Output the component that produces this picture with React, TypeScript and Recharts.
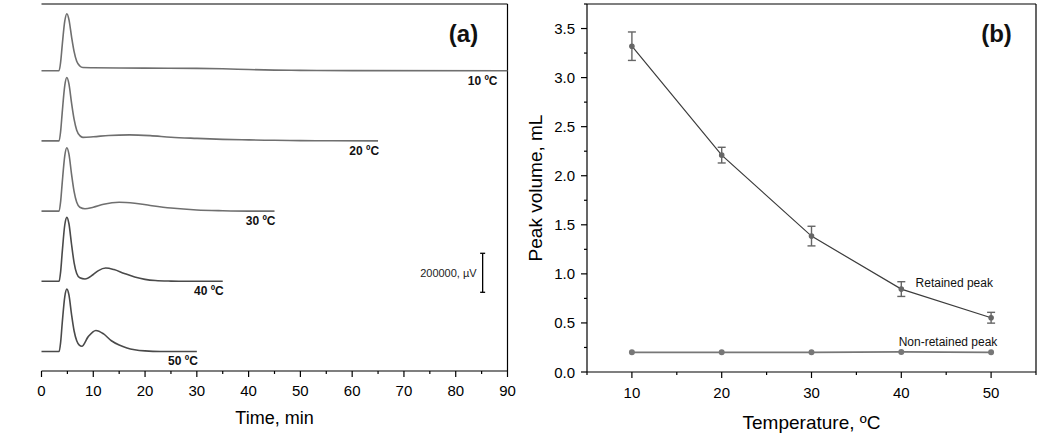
import React from 'react';
import {
  ComposedChart,
  Line,
  Scatter,
  XAxis,
  YAxis,
  ErrorBar,
  ReferenceLine,
  ReferenceDot,
  Label,
} from 'recharts';

// ---- panel (a): chromatograms, signal in µV above each baseline ----
const time10 = [0, 3.4, 3.7, 4.0, 4.5, 4.9, 5.3, 5.8, 6.3, 6.8, 7.4, 8.0, 10, 20, 30, 35, 40, 45, 50, 60, 90];
const signal10 = [0, 0, 45000, 130000, 255000, 292000, 262000, 175000, 98000, 48000, 24000, 16000, 15000, 13000, 12000, 10000, 6000, 3000, 1500, 500, 0];

const time20 = [0, 3.4, 3.7, 4.0, 4.5, 4.9, 5.3, 5.8, 6.3, 6.8, 7.4, 8.0, 10, 13, 17, 21, 25, 30, 35, 40, 45, 50, 55, 65];
const signal20 = [0, 0, 50000, 145000, 285000, 325000, 292000, 195000, 110000, 55000, 27000, 18000, 21000, 28000, 31000, 27000, 19000, 13000, 8000, 5000, 3000, 1500, 500, 0];

const time30 = [0, 3.4, 3.7, 4.0, 4.5, 4.9, 5.3, 5.8, 6.3, 6.8, 7.4, 8.4, 10, 12, 15, 18, 21, 25, 30, 35, 40, 45];
const signal30 = [0, 0, 50000, 145000, 285000, 325000, 292000, 190000, 100000, 45000, 20000, 12000, 20000, 35000, 45000, 40000, 29000, 16000, 6000, 2000, 0, 0];

const time40 = [0, 3.4, 3.7, 4.0, 4.5, 4.9, 5.3, 5.8, 6.3, 6.8, 7.4, 8.4, 10, 11, 12.4, 14, 16, 18, 20, 22, 25, 28, 35];
const signal40 = [0, 0, 50000, 148000, 290000, 328000, 295000, 190000, 95000, 40000, 18000, 12000, 35000, 55000, 68000, 60000, 40000, 22000, 10000, 4000, 1000, 0, 0];

const time50 = [0, 3.4, 3.7, 4.0, 4.5, 4.9, 5.3, 5.8, 6.3, 6.8, 7.3, 7.8, 9, 10.5, 12, 13.5, 15, 16.5, 18, 20, 23, 30];
const signal50 = [0, 0, 48000, 145000, 282000, 320000, 290000, 190000, 105000, 55000, 33000, 27000, 75000, 108000, 90000, 55000, 33000, 18000, 9000, 3000, 0, 0];

const traceLabels = ['10 ºC', '20 ºC', '30 ºC', '40 ºC', '50 ºC'];
const traceOffsets = [1540000, 1180000, 820000, 460000, 100000];
const traceTimes = [time10, time20, time30, time40, time50];
const traceSignals = [signal10, signal20, signal30, signal40, signal50];
const traceColors = ['#6f6f6f', '#6f6f6f', '#6f6f6f', '#4a4a4a', '#4a4a4a'];

const timeTicks = [0, 5, 10, 15, 20, 25, 30, 35, 40, 45, 50, 55, 60, 65, 70, 75, 80, 85, 90];
const scaleBar = [{ t: 85.2, v: 503600, err: 100000 }];

// ---- panel (b): peak volume vs temperature ----
const temperatures = [10, 20, 30, 40, 50];
const retainedPeak = [3.32, 2.21, 1.385, 0.845, 0.553];
const retainedErr = [0.145, 0.08, 0.1, 0.075, 0.055];
const nonRetainedPeak = [0.2, 0.2, 0.2, 0.205, 0.2];
const tempTicks = [5, 10, 15, 20, 25, 30, 35, 40, 45, 50, 55];
const volumeTicks = [0, 0.25, 0.5, 0.75, 1, 1.25, 1.5, 1.75, 2, 2.25, 2.5, 2.75, 3, 3.25, 3.5, 3.75];

const FONT = '"Liberation Sans", Arial, sans-serif';

const traces = traceTimes.map((times, i) =>
  times.map((t, j) => ({ t, v: traceSignals[i][j] + traceOffsets[i] }))
);

const volumeData = temperatures.map((temp, i) => ({
  temp,
  retained: retainedPeak[i],
  retainedErr: retainedErr[i],
  nonRetained: nonRetainedPeak[i],
}));

const TimeTick = (props: any) => {
  const { x, y, payload } = props;
  const major = payload.value % 10 === 0;
  return (
    <g>
      <line x1={x} x2={x} y1={y} y2={y + (major ? 6 : 3)} stroke="#000" strokeWidth={1.2} />
      {major && (
        <text x={x} y={y + 19} textAnchor="middle" dominantBaseline="central" fontSize={15} fill="#000" fontFamily={FONT}>
          {payload.value}
        </text>
      )}
    </g>
  );
};

const TempTick = (props: any) => {
  const { x, y, payload } = props;
  const major = payload.value % 10 === 0;
  return (
    <g>
      <line x1={x} x2={x} y1={y} y2={y + (major ? 6 : 3)} stroke="#000" strokeWidth={1.2} />
      {major && (
        <text x={x} y={y + 20} textAnchor="middle" dominantBaseline="central" fontSize={15} fill="#000" fontFamily={FONT}>
          {payload.value}
        </text>
      )}
    </g>
  );
};

const VolumeTick = (props: any) => {
  const { x, y, payload } = props;
  const major = Math.abs((payload.value * 2) % 1) < 1e-6;
  return (
    <g>
      <line x1={x} x2={x - (major ? 6 : 3)} y1={y} y2={y} stroke="#000" strokeWidth={1.2} />
      {major && (
        <text x={x - 12} y={y} textAnchor="end" dominantBaseline="central" fontSize={15} fill="#000" fontFamily={FONT}>
          {payload.value.toFixed(1)}
        </text>
      )}
    </g>
  );
};

const ScaleBarShape = (props: any) => {
  const { cx, cy } = props;
  return (
    <text x={cx - 6} y={cy} textAnchor="end" dominantBaseline="central" fontSize={11} fill="#222" fontFamily={FONT}>
      200000, µV
    </text>
  );
};

const textAt = (text: string, dx: number, dy: number, size: number, weight: string, anchor: string) =>
  (props: any) => {
    const vb = props.viewBox;
    const cx = vb.x + vb.width / 2;
    const cy = vb.y + vb.height / 2;
    return (
      <text x={cx + dx} y={cy + dy} textAnchor={anchor} dominantBaseline="central" fontSize={size} fontWeight={weight} fill="#111" fontFamily={FONT}>
        {text}
      </text>
    );
  };

export default function App() {
  return (
    <div style={{ position: 'absolute', left: 0, top: 0, width: 1050, height: 437, background: '#fff', fontFamily: FONT }}>
      <div style={{ position: 'absolute', left: 0, top: 0 }}>
        <ComposedChart width={520} height={437} margin={{ top: 4, right: 12.5, bottom: 26, left: 41.5 }}>
          <XAxis
            type="number"
            dataKey="t"
            domain={[0, 90]}
            ticks={timeTicks}
            interval={0}
            tick={TimeTick}
            tickLine={false}
            tickSize={0}
            tickMargin={0}
            height={40}
            axisLine={{ stroke: '#000', strokeWidth: 1.2 }}
          >
            <Label
              content={(p: any) => (
                <text x={p.viewBox.x + p.viewBox.width / 2} y={p.viewBox.y + 47} textAnchor="middle" dominantBaseline="central" fontSize={18} fill="#000" fontFamily={FONT}>
                  Time, min
                </text>
              )}
            />
          </XAxis>
          <YAxis
            type="number"
            domain={[0, 1882000]}
            tick={false}
            tickLine={false}
            width={0}
            axisLine={{ stroke: '#000', strokeWidth: 1.2 }}
          >
            <Label
              content={(p: any) => {
                const x = p.viewBox.x - 29.5;
                const y = p.viewBox.y + p.viewBox.height / 2;
                return (
                  <text x={x} y={y} transform={`rotate(-90 ${x} ${y})`} textAnchor="middle" dominantBaseline="central" fontSize={18} fill="#000" fontFamily={FONT}>
                    Absorbance, 280 nm
                  </text>
                );
              }}
            />
          </YAxis>
          <ReferenceLine y={1882000} stroke="#000" strokeWidth={1.2} />
          <ReferenceLine x={90} stroke="#000" strokeWidth={1.2} />
          {traces.map((data, i) => (
            <Line
              key={traceLabels[i]}
              data={data}
              dataKey="v"
              type="monotone"
              stroke={traceColors[i]}
              strokeWidth={1.6}
              dot={false}
              activeDot={false}
              isAnimationActive={false}
            />
          ))}
          {traces.map((data, i) => {
            const lastT = data[data.length - 1].t;
            return (
              <ReferenceDot
                key={`lbl-${i}`}
                x={lastT}
                y={traceOffsets[i]}
                r={0}
                fill="none"
                stroke="none"
                label={{ content: textAt(traceLabels[i], lastT >= 90 ? -10 : 1, 10, 12, 'bold', 'end') }}
              />
            );
          })}
          <Scatter data={scaleBar} dataKey="v" shape={ScaleBarShape} isAnimationActive={false}>
            <ErrorBar dataKey="err" direction="y" width={2.5} stroke="#000" strokeWidth={1.3} />
          </Scatter>
          <ReferenceDot
            x={81.5}
            y={1730000}
            r={0}
            fill="none"
            stroke="none"
            label={{ content: textAt('(a)', 0, 0, 24, 'bold', 'middle') }}
          />
        </ComposedChart>
      </div>

      <div style={{ position: 'absolute', left: 520, top: 0 }}>
        <ComposedChart width={530} height={437} data={volumeData} margin={{ top: 4, right: 14, bottom: 25, left: 7 }}>
          <XAxis
            type="number"
            dataKey="temp"
            domain={[5, 55]}
            ticks={tempTicks}
            interval={0}
            tick={TempTick}
            tickLine={false}
            tickSize={0}
            tickMargin={0}
            height={40}
            axisLine={{ stroke: '#000', strokeWidth: 1.2 }}
          >
            <Label
              content={(p: any) => (
                <text x={p.viewBox.x + p.viewBox.width / 2} y={p.viewBox.y + 50} textAnchor="middle" dominantBaseline="central" fontSize={19} fill="#000" fontFamily={FONT}>
                  Temperature, ºC
                </text>
              )}
            />
          </XAxis>
          <YAxis
            type="number"
            domain={[0, 3.75]}
            ticks={volumeTicks}
            interval={0}
            tick={VolumeTick}
            tickLine={false}
            tickSize={0}
            tickMargin={0}
            width={60}
            axisLine={{ stroke: '#000', strokeWidth: 1.2 }}
          >
            <Label
              content={(p: any) => {
                const x = p.viewBox.x + 8;
                const y = p.viewBox.y + p.viewBox.height / 2;
                return (
                  <text x={x} y={y} transform={`rotate(-90 ${x} ${y})`} textAnchor="middle" dominantBaseline="central" fontSize={19} fill="#000" fontFamily={FONT}>
                    Peak volume, mL
                  </text>
                );
              }}
            />
          </YAxis>
          <ReferenceLine y={3.75} stroke="#000" strokeWidth={1.2} />
          <ReferenceLine x={55} stroke="#000" strokeWidth={1.2} />
          <Line
            dataKey="retained"
            type="linear"
            stroke="#3c3c3c"
            strokeWidth={1.2}
            dot={{ r: 2.2, fill: '#666', stroke: '#666' }}
            activeDot={false}
            isAnimationActive={false}
          >
            <ErrorBar dataKey="retainedErr" direction="y" width={4} stroke="#666" strokeWidth={1.4} />
          </Line>
          <Line
            dataKey="nonRetained"
            type="linear"
            stroke="#777"
            strokeWidth={1.6}
            dot={{ r: 2.2, fill: '#777', stroke: '#777' }}
            activeDot={false}
            isAnimationActive={false}
          />
          <ReferenceDot x={45.9} y={0.908} r={0} fill="none" stroke="none" label={{ content: textAt('Retained peak', 0, 0, 12, 'normal', 'middle') }} />
          <ReferenceDot x={45.2} y={0.306} r={0} fill="none" stroke="none" label={{ content: textAt('Non-retained peak', 0, 0, 12, 'normal', 'middle') }} />
          <ReferenceDot x={50.6} y={3.45} r={0} fill="none" stroke="none" label={{ content: textAt('(b)', 0, 0, 24, 'bold', 'middle') }} />
        </ComposedChart>
      </div>
    </div>
  );
}
